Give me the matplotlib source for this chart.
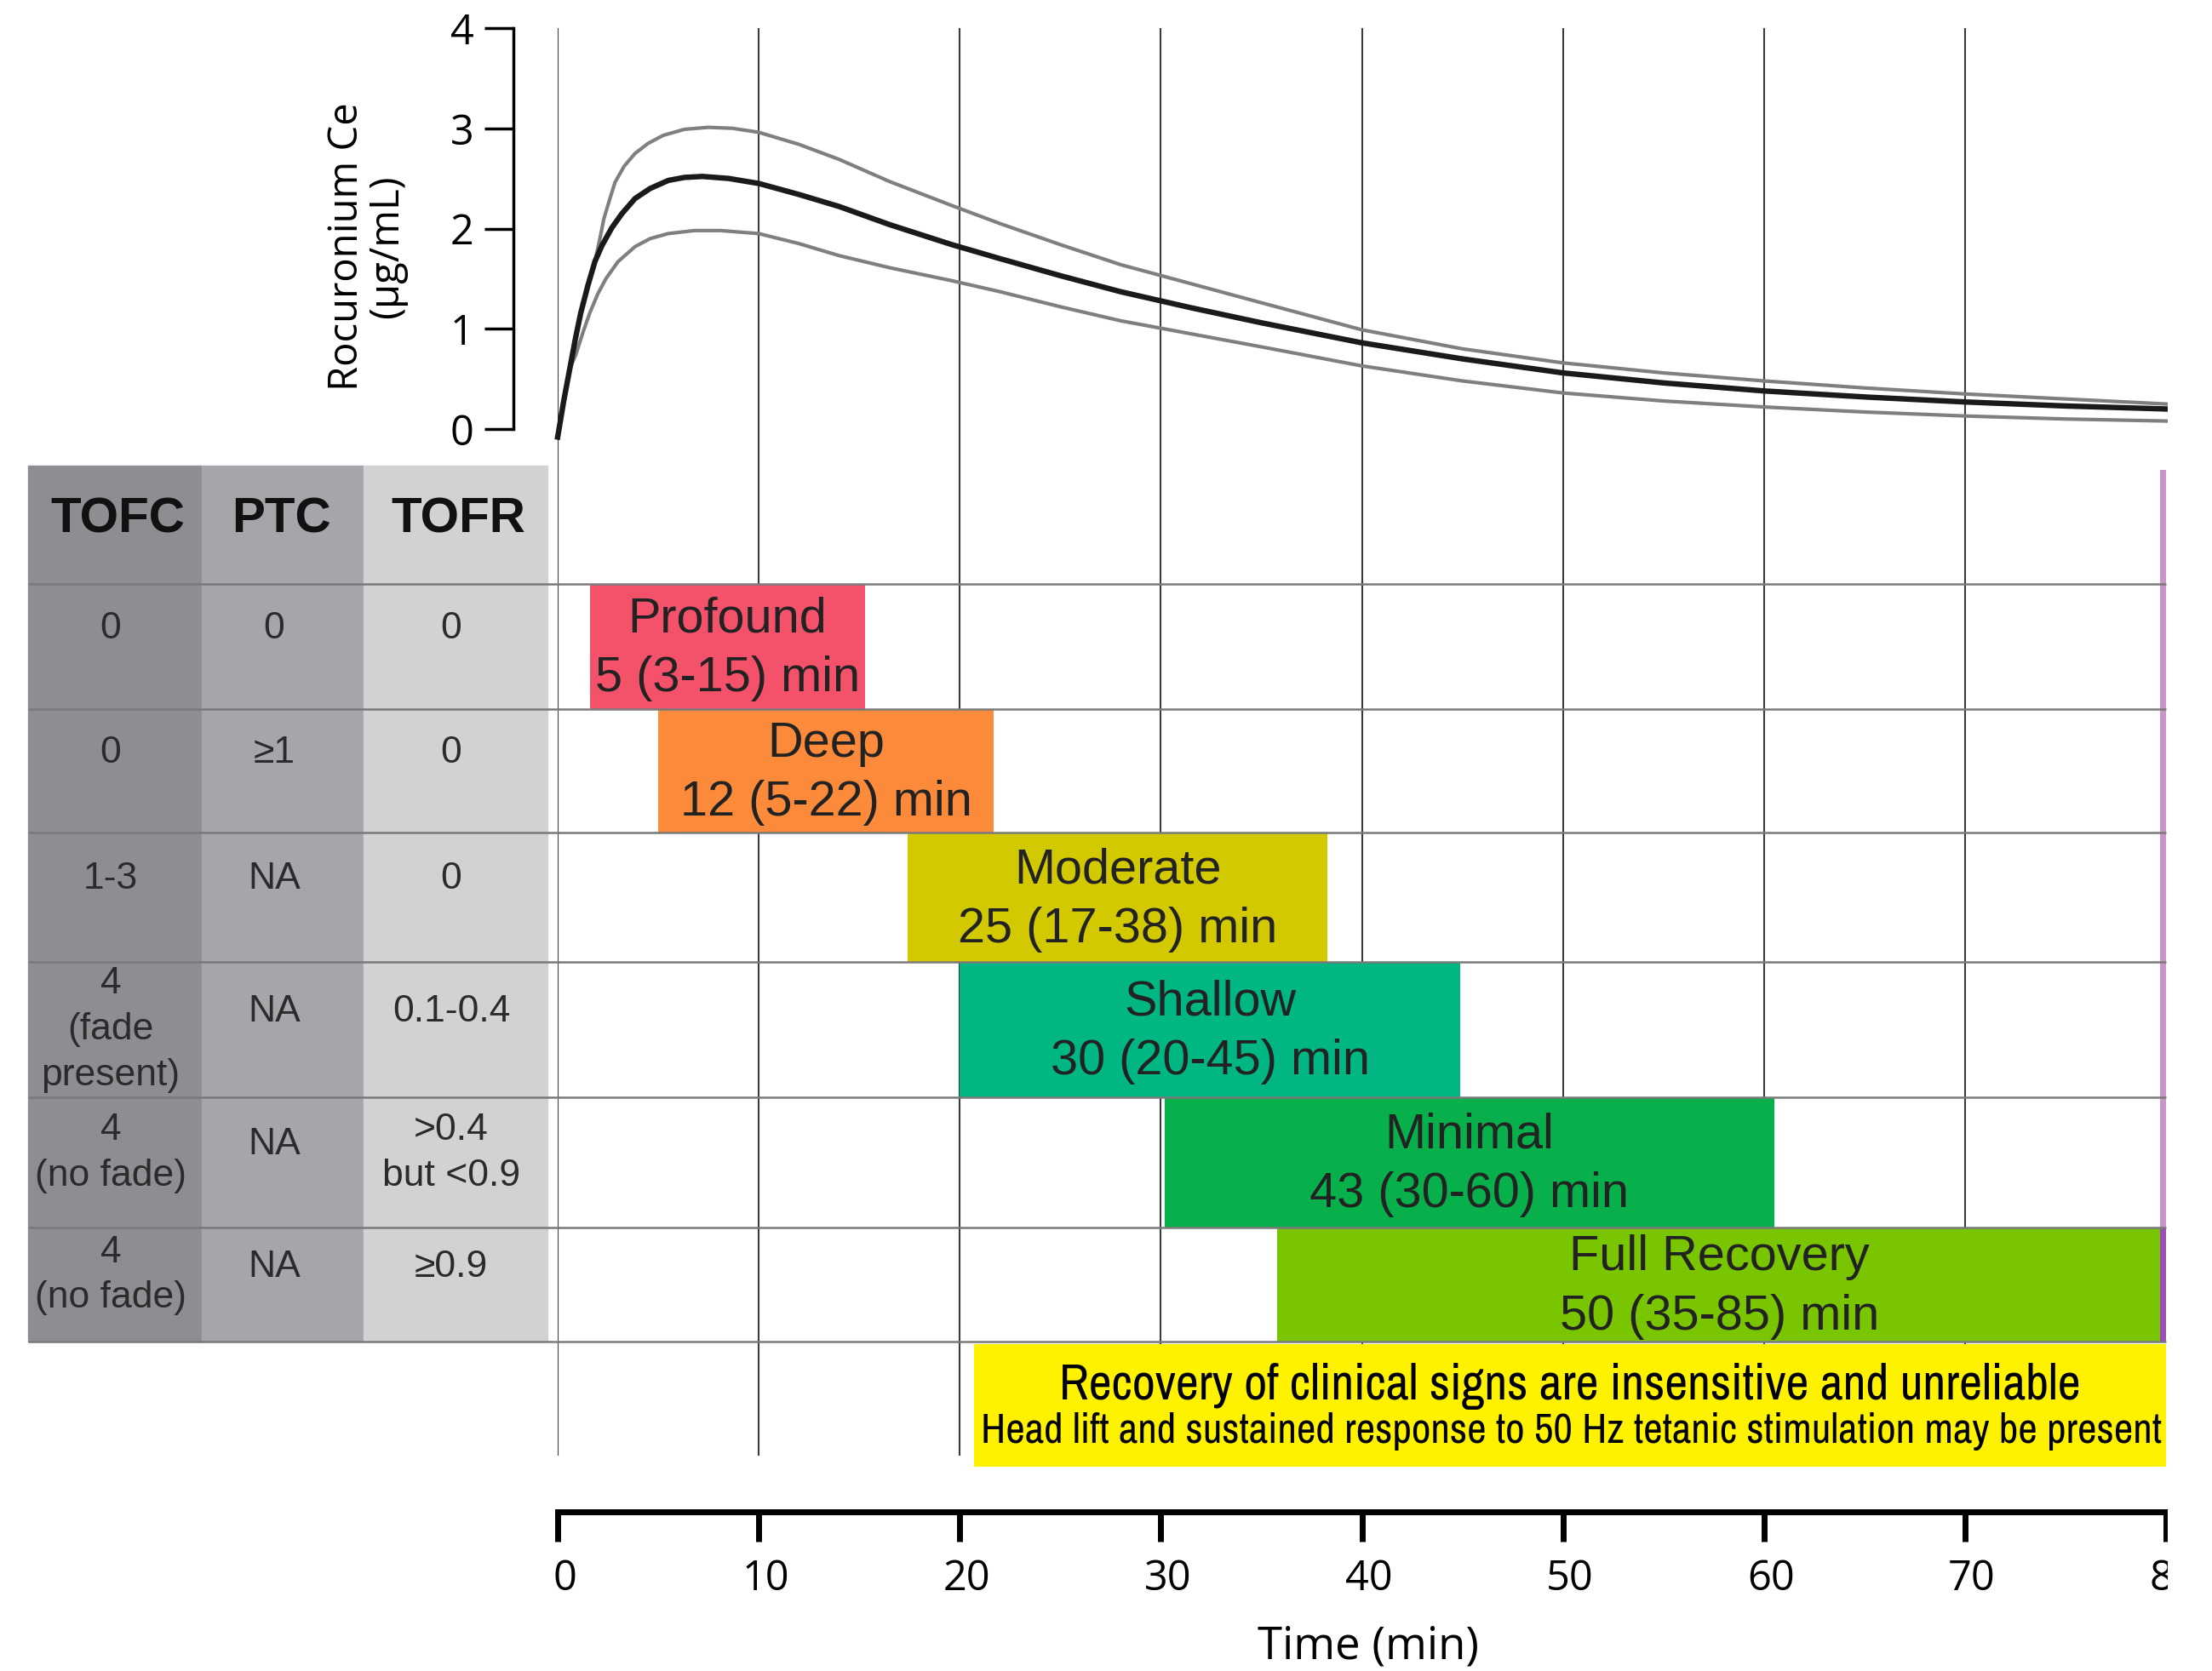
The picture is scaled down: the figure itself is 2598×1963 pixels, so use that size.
import matplotlib
matplotlib.use("Agg")
import matplotlib.pyplot as plt
from matplotlib import font_manager as fm
from matplotlib.patches import Rectangle
from matplotlib.transforms import ScaledTranslation
import numpy as np

# rocuronium effect-site concentration (ug/mL)
t_mean = [0, 0.3, 0.6, 0.9, 1.15, 1.5, 1.85, 2.2, 2.7, 3.2, 3.85, 4.6, 5.5, 6.3, 7.2, 8.5, 10, 12,
          14, 16.5, 19.6, 22, 25, 28, 31.5, 35, 40, 45, 50, 55, 60, 65, 70, 75, 80]
ce_mean = [-0.08, 0.28, 0.60, 0.92, 1.16, 1.43, 1.67, 1.83, 2.01, 2.15, 2.30, 2.40, 2.48, 2.51, 2.52,
           2.50, 2.45, 2.34, 2.22, 2.04, 1.84, 1.70, 1.53, 1.37, 1.21, 1.06, 0.86, 0.70, 0.56, 0.46,
           0.38, 0.32, 0.27, 0.23, 0.20]
t_hi = [1.85, 2.1, 2.3, 2.6, 2.85, 3.3, 3.85, 4.5, 5.25, 6.3, 7.5, 8.7, 10, 12, 14, 16.5, 19.6, 22,
        25, 28, 31.5, 35, 40, 45, 50, 55, 60, 65, 70, 75, 80]
ce_hi = [1.67, 1.90, 2.10, 2.30, 2.46, 2.62, 2.75, 2.85, 2.93, 2.99, 3.01, 3.00, 2.96, 2.84, 2.69,
         2.47, 2.23, 2.05, 1.84, 1.64, 1.45, 1.26, 0.99, 0.80, 0.66, 0.56, 0.48, 0.41, 0.35, 0.30, 0.25]
t_lo = [0.6, 0.9, 1.25, 1.6, 2.0, 2.4, 3.0, 3.85, 4.6, 5.5, 6.8, 8.1, 10, 12, 14, 16.5, 19.6, 22,
        25, 28, 31.5, 35, 40, 45, 50, 55, 60, 65, 70, 75, 80]
ce_lo = [0.60, 0.74, 0.96, 1.16, 1.35, 1.50, 1.67, 1.82, 1.90, 1.95, 1.98, 1.98, 1.95, 1.85, 1.73,
         1.61, 1.48, 1.37, 1.22, 1.08, 0.95, 0.82, 0.63, 0.48, 0.36, 0.28, 0.22, 0.17, 0.13, 0.10, 0.08]

# block depth bands (minutes)
states = ["Profound", "Deep", "Moderate", "Shallow", "Minimal", "Full Recovery"]
durations = ["5 (3-15) min", "12 (5-22) min", "25 (17-38) min", "30 (20-45) min",
             "43 (30-60) min", "50 (35-85) min"]
band_start = [1.6, 5.0, 17.4, 20.0, 30.2, 35.8]
band_end = [15.3, 21.7, 38.3, 44.9, 60.5, 79.8]
signs_start = 20.7
signs_end = 80

headers = ["TOFC", "PTC", "TOFR"]
tofc = ["0", "0", "1-3", "4\n(fade\npresent)", "4\n(no fade)", "4\n(no fade)"]
ptc = ["0", "\u22651", "NA", "NA", "NA", "NA"]
tofr = ["0", "0", "0", "0.1-0.4", ">0.4\nbut <0.9", "\u22650.9"]
signs_title = "Recovery of clinical signs are insensitive and unreliable"
signs_note = "Head lift and sustained response to 50 Hz tetanic stimulation may be present"
time_ticks = [0, 10, 20, 30, 40, 50, 60, 70, 80]
ce_ticks = [0, 1, 2, 3, 4]

# layout (pixels of the 2598x1963 picture)
W, H = 2598, 1963
X0, X1 = 655, 2544
row_edges = np.array([686, 833, 978, 1130, 1289, 1442, 1576])
table_top = 547
col_edges = [33, 237, 427, 643]
col_text_x = [130, 322, 530]
col_colors = ["#8e8e92", "#a6a6aa", "#d0d2d3"]
band_colors = ["#f4516b", "#fb8a3b", "#d3c900", "#00b783", "#07b04b", "#79c600"]
cell_shift = {1: -21, 2: -11, 3: 0}   # text offset by number of lines

SANS = ["Liberation Sans", "DejaVu Sans"]
HUM = ["Open Sans", "DejaVu Sans"]


def narrow_font():
    # look for any condensed sans face that happens to be installed
    for f in fm.fontManager.ttflist:
        if "Narrow" in f.name and f.style == "normal" and f.weight in (400, "normal", "regular"):
            return fm.FontProperties(fname=f.fname)
    for f in fm.fontManager.ttflist:
        if (f.stretch in ("condensed", "semi-condensed") or "Condensed" in f.name) \
                and f.style == "normal" and f.weight in (400, "normal", "regular") \
                and "Mono" not in f.name and "Serif" not in f.name:
            return fm.FontProperties(fname=f.fname)
    return fm.FontProperties(family=SANS)


def px_rect(x0, y0, x1, y1):
    return [x0 / W, 1 - y1 / H, (x1 - x0) / W, (y1 - y0) / H]


fig = plt.figure(figsize=(W / 100, H / 100), dpi=100)

# bands, grid, clinical-signs box
ax_g = fig.add_axes(px_rect(X0, 0, X1, H))
ax_g.set_xlim(0, 80)
ax_g.set_ylim(H, 0)
ax_g.axis("off")
ax_g.set_zorder(1)
ax_g.vlines(time_ticks[:-1], 33, 1710, colors="#3a3a3a", lw=1.5, zorder=1)

tops, bots = row_edges[:-1], row_edges[1:]
centers = (tops + bots) / 2
ax_g.barh(centers, np.array(band_end) - np.array(band_start), left=band_start,
          height=bots - tops, color=band_colors, zorder=2)
for i in range(len(states)):
    ax_g.text((band_start[i] + band_end[i]) / 2, centers[i] + 3, states[i] + "\n" + durations[i],
              ha="center", va="center", fontsize=41.5, color="#222222", family=SANS,
              linespacing=1.38, zorder=4)

ax_g.barh(1651, signs_end - signs_start, left=signs_start, height=144, color="#fff200", zorder=2)
nf = narrow_font()
renderer = fig.canvas.get_renderer()
t1 = ax_g.text((signs_start + signs_end) / 2, 1628, signs_title, ha="center", va="center",
               fontproperties=nf.copy(), color="black", zorder=4)
t2 = ax_g.text(signs_start + 0.35, 1681, signs_note, ha="left", va="center",
               fontproperties=nf.copy(), color="black", zorder=4, clip_on=True)
for txt, target in [(t1, 1201), (t2, 1385)]:
    txt.set_fontsize(30)
    w = txt.get_window_extent(renderer=renderer).width
    txt.set_fontsize(30 * target / w)

ax_g.barh([(552 + 1442) / 2, (1442 + 1576) / 2], 0.3, left=79.7, height=[890, 134],
          color=["#c993cc", "#9c4fb3"], zorder=3)

# table and row lines
ax_f = fig.add_axes([0, 0, 1, 1])
ax_f.set_xlim(0, W)
ax_f.set_ylim(H, 0)
ax_f.axis("off")
ax_f.patch.set_visible(False)
ax_f.set_zorder(3)
for j in range(3):
    ax_f.add_patch(Rectangle((col_edges[j], table_top), col_edges[j + 1] - col_edges[j],
                             row_edges[-1] - table_top, color=col_colors[j], zorder=1))
ax_f.hlines(row_edges, col_edges[0], X1, colors="#7a7a7a", lw=1.8, zorder=3)
for j, h in enumerate(headers):
    ax_f.text(col_text_x[j] + 8, 610, h, ha="center", va="center", fontsize=42,
              fontweight="bold", color="#111111", family=SANS)
for i in range(6):
    for j, col in enumerate([tofc, ptc, tofr]):
        n = col[i].count("\n") + 1
        ax_f.text(col_text_x[j], centers[i] + cell_shift[n], col[i], ha="center", va="center",
                  fontsize=32, color="#2b2b2b", family=SANS, linespacing=1.4)

# concentration curves
ax_c = fig.add_axes(px_rect(X0, 33, X1, 504))
ax_c.set_zorder(2)
ax_c.patch.set_visible(False)
ax_c.set_xlim(0, 80)
ax_c.set_ylim(0, 4)
for s in ["top", "right", "bottom"]:
    ax_c.spines[s].set_visible(False)
ax_c.spines["left"].set_position(("outward", 37.4))
ax_c.spines["left"].set_linewidth(2.5)
ax_c.xaxis.set_visible(False)
ax_c.set_yticks(ce_ticks)
ax_c.tick_params(axis="y", direction="out", length=24.5, width=2.5, pad=9, labelsize=35)
for lab in ax_c.get_yticklabels():
    lab.set_family(HUM)
ax_c.plot(t_hi, ce_hi, color="#7f7f7f", lw=3.0, clip_on=False, solid_joinstyle="round")
ax_c.plot(t_lo, ce_lo, color="#7f7f7f", lw=3.0, clip_on=False, solid_joinstyle="round")
ax_c.plot(t_mean, ce_mean, color="#1a1a1a", lw=4.6, clip_on=False, solid_joinstyle="round")

# time axis
ax_x = fig.add_axes(px_rect(X0, 1770, X1, 1776))
ax_x.patch.set_visible(False)
ax_x.set_xlim(0, 80)
for s in ["top", "right", "left"]:
    ax_x.spines[s].set_visible(False)
ax_x.spines["bottom"].set_linewidth(5)
ax_x.set_yticks([])
ax_x.set_xticks(time_ticks)
ax_x.tick_params(axis="x", direction="out", length=25, width=5, pad=14, labelsize=35)
shift = ScaledTranslation(8 / 100, 0, fig.dpi_scale_trans)
for lab in ax_x.get_xticklabels():
    lab.set_family(HUM)
    lab.set_transform(lab.get_transform() + shift)

fig.text(431 / W, 1 - 290 / H, "Rocuronium Ce\n(\u00b5g/mL)", rotation=90, ha="center",
         va="center", fontsize=34, family=HUM, linespacing=1.0, multialignment="center")
fig.text(1607 / W, 1 - 1935 / H, "Time (min)", ha="center", va="center", fontsize=38, family=HUM)

# the source picture is cropped just right of the 80 min mark
fig.add_artist(Rectangle((2546 / W, 0), 1, 1, transform=fig.transFigure, facecolor="white",
                         edgecolor="none", zorder=10))

fig.savefig("out.png", dpi=100)
